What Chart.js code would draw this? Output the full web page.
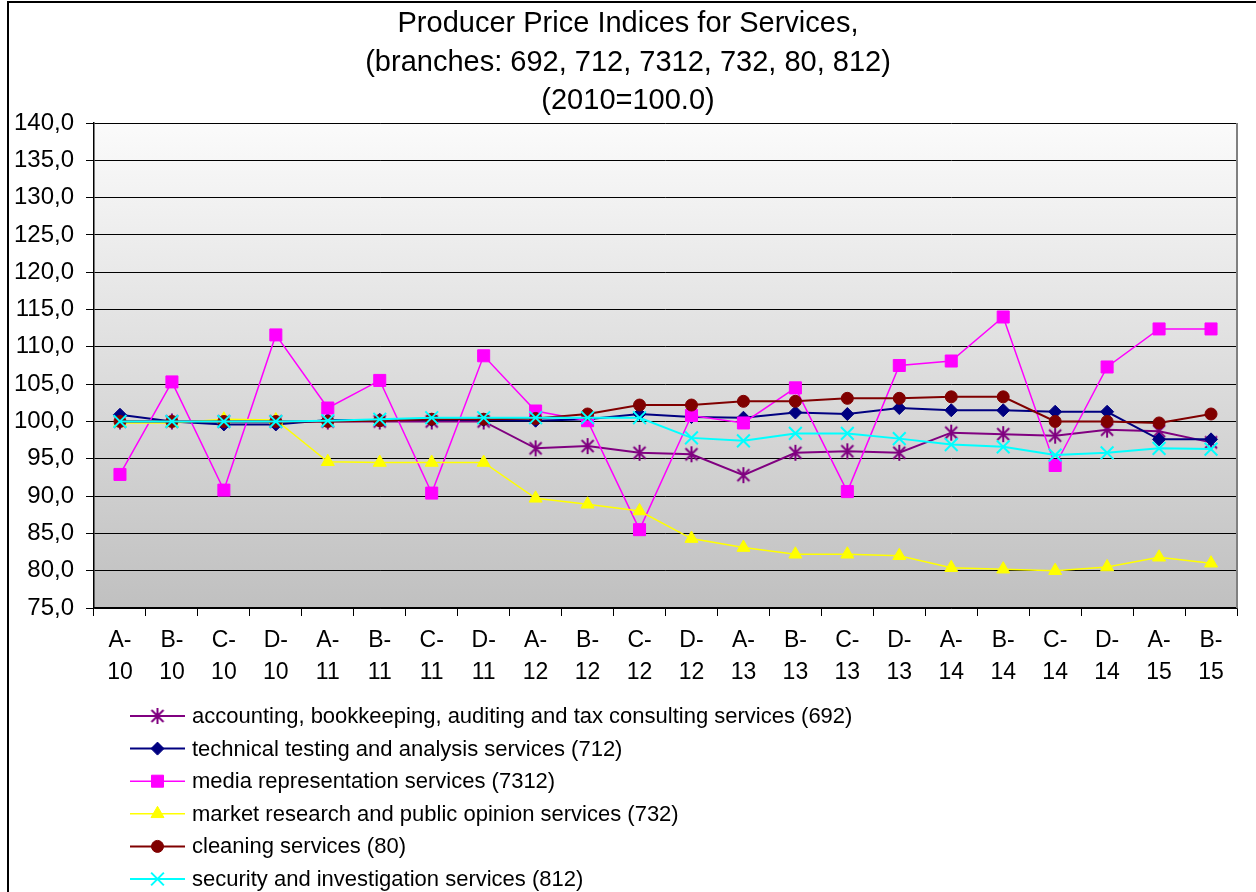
<!DOCTYPE html>
<html>
<head>
<meta charset="utf-8">
<script src="https://cdn.jsdelivr.net/npm/chart.js@4.4.1/dist/chart.umd.min.js"></script>
<style>
  html, body { margin: 0; padding: 0; background: #ffffff; overflow: hidden; }
  #wrap { position: absolute; left: 0; top: 0; width: 1256px; height: 892px; }
</style>
</head>
<body>
<div id="wrap"><canvas id="ppiChart" width="1256" height="892"></canvas></div>
<script>
const quarters = ['A-10', 'B-10', 'C-10', 'D-10', 'A-11', 'B-11', 'C-11', 'D-11',
    'A-12', 'B-12', 'C-12', 'D-12', 'A-13', 'B-13', 'C-13', 'D-13',
    'A-14', 'B-14', 'C-14', 'D-14', 'A-15', 'B-15'];

const accounting692 = [100.0, 100.0, 100.0, 100.0, 100.0, 100.0, 100.0, 100.0, 96.4, 96.7, 95.8,
    95.6, 92.8, 95.8, 96.0, 95.8, 98.5, 98.3, 98.1, 98.9, 98.7, 97.2];
const testing712 = [100.9, 100.0, 99.6, 99.6, 100.2, 100.2, 100.2, 100.2, 100.1, 100.3, 101.0,
    100.6, 100.5, 101.2, 101.0, 101.8, 101.5, 101.5, 101.3, 101.3, 97.6, 97.6];
const media7312 = [92.9, 105.3, 90.8, 111.6, 101.8, 105.5, 90.4, 108.8, 101.4, 100.1, 85.5,
    100.8, 99.8, 104.5, 90.6, 107.5, 108.1, 114.0, 94.1, 107.3, 112.4, 112.4];
const market732 = [99.8, 99.8, 100.3, 100.2, 94.6, 94.5, 94.5, 94.5, 89.7, 88.9, 88.0,
    84.3, 83.1, 82.2, 82.2, 82.0, 80.4, 80.2, 80.0, 80.5, 81.8, 81.0];
const cleaning80 = [100.0, 100.0, 100.0, 100.0, 100.0, 100.1, 100.3, 100.3, 100.4, 101.0, 102.2,
    102.2, 102.7, 102.7, 103.1, 103.1, 103.3, 103.3, 100.0, 100.0, 99.8, 101.0];
const security812 = [100.0, 100.0, 100.0, 100.0, 100.1, 100.3, 100.5, 100.5, 100.5, 100.5, 100.5,
    97.8, 97.4, 98.4, 98.4, 97.7, 96.9, 96.6, 95.5, 95.8, 96.4, 96.3];

const seriesNames = [
    'accounting, bookkeeping, auditing and tax consulting services (692)',
    'technical testing and analysis services (712)',
    'media representation services (7312)',
    'market research and public opinion services (732)',
    'cleaning services (80)',
    'security and investigation services (812)'
];

const FONT = '"Liberation Sans", Arial, sans-serif';

// asterisk marker (x plus vertical bar), like the spreadsheet one
function makeAsterisk(color) {
    const c = document.createElement('canvas');
    c.width = 18; c.height = 18;
    const g = c.getContext('2d');
    g.strokeStyle = color;
    g.lineWidth = 2;
    g.beginPath();
    g.moveTo(3, 3); g.lineTo(15, 15);
    g.moveTo(15, 3); g.lineTo(3, 15);
    g.moveTo(9, 1); g.lineTo(9, 17);
    g.stroke();
    return c;
}

function makeDataset(label, data, color, style, radius, lineWidth, order) {
    return {
        label: label,
        data: data,
        yAxisID: 'y',
        borderColor: color,
        backgroundColor: color,
        pointBackgroundColor: color,
        pointBorderColor: color,
        pointStyle: style,
        pointRadius: radius,
        pointHoverRadius: radius,
        pointBorderWidth: (style === 'crossRot') ? 2 : 1,
        borderWidth: lineWidth,
        tension: 0,
        fill: false,
        order: order
    };
}

const datasets = [
    makeDataset(seriesNames[0], accounting692, '#800080', makeAsterisk('#800080'), 8, 2, 6),
    makeDataset(seriesNames[1], testing712, '#000080', 'rectRot', 6.5, 2, 5),
    makeDataset(seriesNames[2], media7312, '#ff00ff', 'rect', 8.5, 1.5, 4),
    makeDataset(seriesNames[3], market732, '#ffff00', 'triangle', 7.5, 1.5, 3),
    makeDataset(seriesNames[4], cleaning80, '#800000', 'circle', 6, 2, 2),
    makeDataset(seriesNames[5], security812, '#00ffff', 'crossRot', 9, 2, 1)
];

const plotBackground = {
    id: 'plotBackground',
    beforeDraw(chart) {
        const a = chart.chartArea;
        const ctx = chart.ctx;
        const grad = ctx.createLinearGradient(0, a.top, 0, a.bottom);
        grad.addColorStop(0, '#fbfbfb');
        grad.addColorStop(1, '#c0c0c0');
        ctx.save();
        ctx.fillStyle = grad;
        ctx.fillRect(a.left, a.top, a.right - a.left, a.bottom - a.top);
        ctx.restore();
    },
    afterDraw(chart) {
        const a = chart.chartArea;
        const ctx = chart.ctx;
        ctx.save();
        // grey frame on the right side of the plot
        ctx.strokeStyle = '#808080';
        ctx.lineWidth = 2;
        ctx.beginPath();
        ctx.moveTo(a.right, a.top);
        ctx.lineTo(a.right, a.bottom);
        ctx.stroke();
        // outer chart frame (left + top)
        ctx.strokeStyle = '#000000';
        ctx.lineWidth = 2;
        ctx.beginPath();
        ctx.moveTo(8, 892);
        ctx.lineTo(8, 2);
        ctx.lineTo(1256, 2);
        ctx.stroke();
        ctx.restore();
    }
};

const sideLegend = {
    id: 'sideLegend',
    afterDraw(chart) {
        const ctx = chart.ctx;
        const helpers = Chart.helpers;
        ctx.save();
        ctx.font = '22px ' + FONT;
        ctx.textBaseline = 'middle';
        ctx.textAlign = 'left';
        chart.data.datasets.forEach((ds, i) => {
            const y = 716 + i * 32.6;
            ctx.strokeStyle = ds.borderColor;
            ctx.lineWidth = ds.borderWidth;
            ctx.beginPath();
            ctx.moveTo(130, y);
            ctx.lineTo(185, y);
            ctx.stroke();
            ctx.fillStyle = ds.pointBackgroundColor;
            ctx.strokeStyle = ds.pointBorderColor;
            ctx.lineWidth = ds.pointBorderWidth;
            if (helpers && helpers.drawPoint) {
                helpers.drawPoint(ctx, {
                    pointStyle: ds.pointStyle,
                    radius: ds.pointRadius,
                    rotation: 0,
                    borderWidth: ds.pointBorderWidth
                }, 157.5, y);
            }
            ctx.fillStyle = '#000000';
            ctx.fillText(ds.label, 192, y + 1);
        });
        ctx.restore();
    }
};

new Chart(document.getElementById('ppiChart'), {
    type: 'line',
    data: {
        labels: quarters.map(q => q.replace('-', '-|').split('|')),
        datasets: datasets
    },
    plugins: [plotBackground, sideLegend],
    options: {
        responsive: false,
        animation: false,
        layout: {
            padding: { left: 0, right: 0, top: 0, bottom: 184 }
        },
        scales: {
            x: {
                offset: true,
                afterFit(scale) { scale.height = 100; },
                border: { display: true, color: '#000000', width: 1.5 },
                grid: {
                    offset: true,
                    drawOnChartArea: false,
                    drawTicks: true,
                    tickLength: 8,
                    color: '#000000',
                    lineWidth: 1
                },
                ticks: {
                    color: '#000000',
                    padding: 9,
                    maxRotation: 0,
                    autoSkip: false,
                    font: { family: FONT, size: 23, lineHeight: '32px' }
                }
            },
            y: {
                min: 75,
                max: 140,
                afterFit(scale) { scale.width = 94; },
                border: { display: true, color: '#000000', width: 1.5 },
                grid: {
                    color: '#000000',
                    lineWidth: 1,
                    drawTicks: true,
                    tickLength: 8
                },
                ticks: {
                    stepSize: 5,
                    color: '#000000',
                    padding: 12,
                    font: { family: FONT, size: 24 },
                    callback: function(value) {
                        return value.toFixed(1).replace('.', ',');
                    }
                }
            },
            // empty right-hand spacer so the title stays centred on the whole canvas
            yRight: {
                position: 'right',
                afterFit(scale) { scale.width = 19; },
                border: { display: false },
                grid: { display: false, drawTicks: false },
                ticks: { display: false }
            }
        },
        plugins: {
            legend: { display: false },
            tooltip: { enabled: false },
            title: {
                display: true,
                text: ['Producer Price Indices for Services,',
                    '(branches: 692, 712, 7312, 732, 80, 812)',
                    '(2010=100.0)'],
                color: '#000000',
                font: { family: FONT, size: 29, weight: 'normal', lineHeight: '38.5px' },
                padding: { top: 5, bottom: 2.5 }
            }
        }
    }
});
</script>
</body>
</html>
